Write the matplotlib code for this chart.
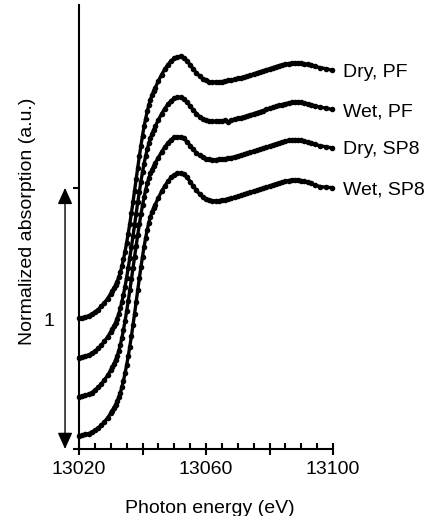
import numpy as np
import matplotlib.pyplot as plt
from matplotlib.ticker import MultipleLocator

plt.rcParams['font.family'] = ['Liberation Sans', 'DejaVu Sans']

# photon energy (eV), finer steps across the edge
energy = [13020, 13021, 13022, 13023, 13024, 13025, 13026, 13027, 13028, 13029, 13030,
          13030.5, 13031, 13031.5, 13032, 13032.5, 13033, 13033.5, 13034, 13034.5, 13035,
          13035.5, 13036, 13036.5, 13037, 13037.5, 13038, 13038.5, 13039, 13039.5, 13040,
          13040.5, 13041, 13041.5, 13042, 13042.5, 13043, 13043.5, 13044,
          13045, 13046, 13047, 13048, 13049, 13050, 13051, 13052, 13053, 13054, 13055,
          13056, 13057, 13058, 13059, 13060, 13061, 13062, 13063, 13064, 13065,
          13066, 13067, 13068, 13069, 13070, 13071, 13072, 13073, 13074, 13075,
          13076, 13077, 13078, 13079, 13080, 13081, 13082, 13083, 13084, 13085,
          13086, 13087, 13088, 13089, 13090, 13091, 13092, 13093,
          13094.3, 13096.0, 13097.8, 13099.8]

# normalized absorption of each sample
dry_pf = [0.000, 0.003, 0.006, 0.010, 0.016, 0.024, 0.034, 0.046, 0.060, 0.076, 0.095,
          0.105, 0.116, 0.128, 0.141, 0.157, 0.176, 0.199, 0.226, 0.256, 0.289,
          0.325, 0.363, 0.403, 0.445, 0.489, 0.533, 0.577, 0.620, 0.661, 0.700,
          0.735, 0.765, 0.793, 0.818, 0.838, 0.855, 0.870, 0.883,
          0.909, 0.933, 0.954, 0.972, 0.986, 0.996, 1.002, 1.003, 0.998, 0.987, 0.971,
          0.955, 0.940, 0.928, 0.918, 0.911, 0.907, 0.905, 0.905, 0.906, 0.907,
          0.909, 0.911, 0.913, 0.916, 0.919, 0.922, 0.925, 0.928, 0.932, 0.936,
          0.940, 0.944, 0.948, 0.952, 0.956, 0.960, 0.964, 0.968, 0.971, 0.974,
          0.976, 0.977, 0.978, 0.978, 0.977, 0.975, 0.973, 0.970,
          0.965, 0.960, 0.956, 0.950]

wet_pf = [0.000, 0.003, 0.006, 0.010, 0.016, 0.024, 0.035, 0.047, 0.062, 0.079, 0.099,
          0.109, 0.121, 0.134, 0.149, 0.167, 0.188, 0.213, 0.241, 0.272, 0.306,
          0.343, 0.382, 0.423, 0.465, 0.508, 0.551, 0.594, 0.635, 0.674, 0.710,
          0.743, 0.772, 0.798, 0.821, 0.840, 0.857, 0.872, 0.885,
          0.910, 0.933, 0.953, 0.970, 0.984, 0.993, 0.997, 0.996, 0.990, 0.978, 0.963,
          0.948, 0.934, 0.923, 0.914, 0.908, 0.905, 0.904, 0.904, 0.905, 0.906,
          0.908, 0.902, 0.910, 0.913, 0.916, 0.919, 0.922, 0.926, 0.930, 0.934,
          0.938, 0.942, 0.946, 0.950, 0.954, 0.958, 0.962, 0.966, 0.969, 0.972,
          0.975, 0.977, 0.978, 0.978, 0.977, 0.975, 0.972, 0.969,
          0.964, 0.959, 0.955, 0.950]

dry_sp8 = [0.000, 0.003, 0.006, 0.010, 0.016, 0.025, 0.036, 0.049, 0.064, 0.082, 0.102,
           0.113, 0.126, 0.140, 0.156, 0.175, 0.198, 0.225, 0.256, 0.290, 0.327,
           0.366, 0.407, 0.449, 0.492, 0.535, 0.578, 0.620, 0.660, 0.698, 0.733,
           0.764, 0.792, 0.817, 0.838, 0.855, 0.870, 0.883, 0.895,
           0.916, 0.937, 0.956, 0.972, 0.985, 0.993, 0.996, 0.995, 0.989, 0.977, 0.962,
           0.947, 0.934, 0.924, 0.917, 0.912, 0.909, 0.908, 0.908, 0.909, 0.910,
           0.912, 0.914, 0.916, 0.919, 0.922, 0.925, 0.928, 0.932, 0.936, 0.940,
           0.944, 0.948, 0.952, 0.956, 0.960, 0.964, 0.968, 0.972, 0.976, 0.979,
           0.982, 0.984, 0.985, 0.984, 0.982, 0.979, 0.975, 0.971,
           0.966, 0.961, 0.957, 0.953]

wet_sp8 = [0.000, 0.003, 0.006, 0.009, 0.014, 0.021, 0.030, 0.041, 0.054, 0.069, 0.087,
           0.097, 0.108, 0.120, 0.133, 0.148, 0.166, 0.187, 0.212, 0.240, 0.271,
           0.305, 0.342, 0.382, 0.424, 0.468, 0.513, 0.558, 0.603, 0.646, 0.687,
           0.725, 0.759, 0.790, 0.817, 0.840, 0.858, 0.873, 0.886,
           0.912, 0.936, 0.957, 0.975, 0.990, 1.000, 1.006, 1.007, 1.002, 0.990, 0.974,
           0.956, 0.940, 0.926, 0.915, 0.907, 0.902, 0.900, 0.900, 0.901, 0.903,
           0.905, 0.908, 0.911, 0.914, 0.917, 0.921, 0.925, 0.929, 0.933, 0.937,
           0.941, 0.945, 0.949, 0.953, 0.957, 0.961, 0.965, 0.969, 0.972, 0.975,
           0.978, 0.980, 0.981, 0.980, 0.978, 0.975, 0.971, 0.967,
           0.960, 0.955, 0.952, 0.951]

samples = ['Dry, PF', 'Wet, PF', 'Dry, SP8', 'Wet, SP8']
spectra = [dry_pf, wet_pf, dry_sp8, wet_sp8]
offsets = [0.50, 0.35, 0.20, 0.05]

x_ticks = [13020, 13040, 13060, 13080, 13100]
x_ticklabels = ['13020', '', '13060', '', '13100']

fig = plt.figure(figsize=(4.33, 5.16), dpi=100)
ax = fig.add_axes([79 / 433, 1 - 449 / 516, 254 / 433, 444 / 516])

for name, mu, off in zip(samples, spectra, offsets):
    y = np.array(mu) + off
    ax.plot(energy, y, color='black', lw=2.4, marker='o', ms=4.0, mew=0,
            clip_on=False)
    ax.text(13103, y[-1] - 0.008, name, ha='left', va='center', fontsize=14)

ax.set_xlim(13020, 13100)
ax.set_ylim(0, 1.70)

for side in ['top', 'right']:
    ax.spines[side].set_visible(False)
for side in ['left', 'bottom']:
    ax.spines[side].set_linewidth(1.5)

ax.set_xticks(x_ticks)
ax.set_xticklabels(x_ticklabels)
ax.xaxis.set_minor_locator(MultipleLocator(5))
ax.set_yticks([0, 1])
ax.set_yticklabels([])
ax.tick_params(axis='x', which='major', direction='inout', length=8, width=1.5,
               labelsize=14, pad=5)
ax.tick_params(axis='x', which='minor', direction='in', length=4, width=1.5)
ax.tick_params(axis='y', which='major', direction='out', length=4, width=1.5)

# scale bar for one absorption unit
ax.annotate('', xy=(13015.6, 0.0), xytext=(13015.6, 1.0),
            arrowprops=dict(arrowstyle='<|-|>,head_length=1.0,head_width=0.45',
                            mutation_scale=10, lw=1, color='black',
                            shrinkA=0, shrinkB=0),
            annotation_clip=False)
ax.text(13010.6, 0.49, '1', ha='center', va='center', fontsize=14)

ax.set_xlabel('Photon energy (eV)', fontsize=14)
ax.xaxis.set_label_coords(0.514, -0.115)
ax.set_ylabel('Normalized absorption (a.u.)', fontsize=14)
ax.yaxis.set_label_coords(-0.169, 0.5135)

fig.savefig('out.png', dpi=100)
